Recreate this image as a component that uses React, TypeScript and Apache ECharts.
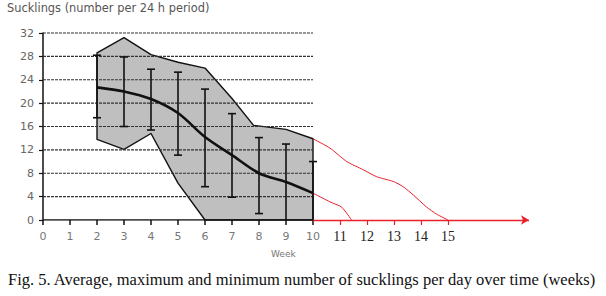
import React, { useEffect, useRef } from "react";
import * as echarts from "echarts";

const weeks = [2, 3, 4, 5, 6, 7, 8, 9, 10];
const meanVals = [22.7, 22.0, 20.7, 18.3, 14.2, 11.1, 8.0, 6.5, 4.6];
const sdHigh = [28.2, 27.9, 25.8, 25.3, 22.4, 18.2, 14.1, 13.0, 10.0];
const sdLow = [17.5, 16.0, 15.4, 11.1, 5.7, 3.9, 1.1, 0, 0];

const maxWeeks = [2, 3, 4, 5, 6, 7, 7.8, 9, 10];
const maxVals = [28.6, 31.2, 28.3, 27.0, 26.0, 20.8, 16.2, 15.5, 13.9];
const minWeeks = [2, 3, 4, 5, 6, 10];
const minVals = [13.8, 12.1, 14.8, 6.3, 0, 0];

const redUpperWeeks = [10, 10.63, 11.25, 11.86, 12.36, 12.97, 13.34, 13.71, 14.21, 14.58, 15.0];
const redUpperVals = [13.9, 12.3, 10.0, 8.6, 7.4, 6.6, 5.7, 4.3, 2.2, 1.0, 0];
const redLowerWeeks = [10, 10.63, 11.06, 11.43];
const redLowerVals = [4.6, 3.1, 2.2, 0];

const yTicks = [0, 4, 8, 12, 16, 20, 24, 28, 32];
const blackWeekTicks = [0, 1, 2, 3, 4, 5, 6, 7, 8, 9, 10];
const redWeekTicks = [11, 12, 13, 14, 15];

const titleText = "Sucklings (number per 24 h period)";
const xName = "Week";
const caption = "Fig. 5. Average, maximum and minimum number of sucklings per day over time (weeks)";

const RED = "#e8202a";

export default function App() {
  const ref = useRef<HTMLDivElement>(null);
  useEffect(() => {
    if (!ref.current) return;
    const chart = echarts.init(ref.current, null, { renderer: "svg" });
    const sans = "DejaVu Sans";
    const option: any = {
      animation: false,
      grid: { left: 43, right: 77, top: 33, bottom: 76, containLabel: false },
      xAxis: [
        {
          type: "value",
          min: 0,
          max: 18,
          interval: 1,
          axisLine: { show: false },
          splitLine: { show: false },
          axisTick: { show: true, customValues: blackWeekTicks, length: 5, lineStyle: { color: "#111", width: 1.5 } },
          axisLabel: { customValues: blackWeekTicks, color: "#777", fontSize: 11, fontFamily: sans, margin: 11 },
        },
        {
          type: "value",
          min: 0,
          max: 18,
          interval: 1,
          position: "bottom",
          axisLine: { show: false },
          splitLine: { show: false },
          axisTick: { show: true, customValues: redWeekTicks, length: 5, lineStyle: { color: RED, width: 1.2 } },
          axisLabel: { customValues: redWeekTicks, color: "#222", fontSize: 14, fontFamily: "Liberation Serif", margin: 9 },
        },
      ],
      yAxis: {
        type: "value",
        min: 0,
        max: 32,
        interval: 4,
        axisLine: { show: true, lineStyle: { color: "#111", width: 1.5 } },
        axisTick: { show: true, inside: false, length: 4, lineStyle: { color: "#111", width: 1.2 } },
        axisLabel: { color: "#666", fontSize: 11, fontFamily: sans, margin: 9 },
        splitLine: { show: false },
      },
      graphic: [
        { type: "text", left: 7, top: 2, style: { text: titleText, fill: "#555", font: `11.4px '${sans}'` } },
        { type: "text", left: 271, top: 249, style: { text: xName, fill: "#777", font: `9px '${sans}'` } },
        { type: "text", left: 8, top: 271, style: { text: caption, fill: "#111", font: "16.5px 'Liberation Serif'" } },
      ],
      series: [
        {
          type: "custom",
          name: "range",
          z: 1,
          silent: true,
          data: [[0, 0]],
          renderItem: (params: any, api: any) => {
            const pts: number[][] = [];
            maxWeeks.forEach((w, i) => pts.push(api.coord([w, maxVals[i]])));
            for (let i = minWeeks.length - 1; i >= 0; i--) pts.push(api.coord([minWeeks[i], minVals[i]]));
            return {
              type: "polygon",
              shape: { points: pts },
              style: { fill: "#bfbfbf", stroke: "#111", lineWidth: 1.4, lineJoin: "round" },
            };
          },
        },
        {
          type: "custom",
          name: "grid",
          z: 2,
          silent: true,
          data: yTicks.filter((v) => v > 0).map((v) => [v]),
          renderItem: (params: any, api: any) => {
            const v = api.value(0);
            const a = api.coord([0, v]);
            const b = api.coord([10, v]);
            return {
              type: "line",
              shape: { x1: a[0], y1: a[1], x2: b[0], y2: b[1] },
              style: { stroke: "#333", lineWidth: 1.2, lineDash: [3, 1] },
            };
          },
        },
        {
          type: "custom",
          name: "sd",
          z: 4,
          silent: true,
          data: weeks.map((w, i) => [w, sdLow[i], sdHigh[i]]),
          renderItem: (params: any, api: any) => {
            const w = api.value(0);
            const lo = api.coord([w, api.value(1)]);
            const hi = api.coord([w, api.value(2)]);
            const cap = 4;
            const st = { stroke: "#111", lineWidth: 1.6 };
            const children: any[] = [
              { type: "line", shape: { x1: lo[0], y1: lo[1], x2: hi[0], y2: hi[1] }, style: st },
              { type: "line", shape: { x1: hi[0] - cap, y1: hi[1], x2: hi[0] + cap, y2: hi[1] }, style: st },
            ];
            if (api.value(1) > 0) {
              children.push({ type: "line", shape: { x1: lo[0] - cap, y1: lo[1], x2: lo[0] + cap, y2: lo[1] }, style: st });
            }
            return { type: "group", children };
          },
        },
        {
          type: "line",
          name: "mean",
          z: 5,
          data: weeks.map((w, i) => [w, meanVals[i]]),
          symbol: "none",
          smooth: 0.3,
          lineStyle: { color: "#111", width: 2.6 },
        },
        {
          type: "line",
          name: "redUpper",
          z: 3,
          data: redUpperWeeks.map((w, i) => [w, redUpperVals[i]]),
          symbol: "none",
          smooth: 0.2,
          lineStyle: { color: RED, width: 1 },
        },
        {
          type: "line",
          name: "redLower",
          z: 3,
          data: redLowerWeeks.map((w, i) => [w, redLowerVals[i]]),
          symbol: "none",
          smooth: 0.2,
          lineStyle: { color: RED, width: 1 },
        },
        {
          type: "line",
          name: "baseBlack",
          z: 6,
          data: [[0, 0], [10, 0]],
          symbol: "none",
          lineStyle: { color: "#111", width: 1.6 },
        },
        {
          type: "line",
          name: "baseRed",
          z: 6,
          data: [],
          markLine: {
            silent: true,
            symbol: ["none", "arrow"],
            symbolSize: [7, 8],
            label: { show: false },
            lineStyle: { color: RED, type: "solid", width: 1.4 },
            data: [[{ coord: [10, 0] }, { coord: [18, 0] }]],
          },
        },
      ],
    };
    chart.setOption(option);
    return () => chart.dispose();
  }, []);
  return (
    <div
      ref={ref}
      style={{ position: "absolute", left: 0, top: 0, width: 606, height: 296, background: "#fff" }}
    />
  );
}
